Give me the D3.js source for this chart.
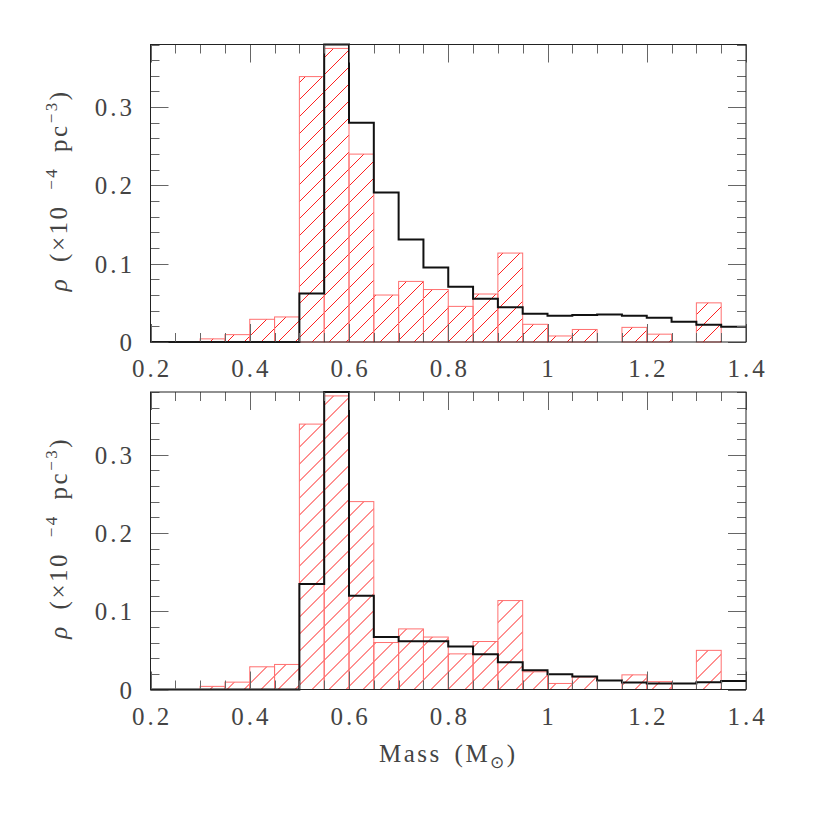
<!DOCTYPE html>
<meta charset="utf-8">
<head>
<style>
  body { margin: 0; background: #fff; }
  text { font-family: "Liberation Serif", "Times New Roman", serif; fill: #444; }
  .tick-label { font-size: 25px; letter-spacing: 3px; }
</style>
</head>
<script src="https://d3js.org/d3.v7.min.js"></script>
<div id="chart"></div>
<script>
// bin left edges (Msun), width 0.05
var binStarts = [0.20, 0.25, 0.30, 0.35, 0.40, 0.45, 0.50, 0.55, 0.60, 0.65, 0.70, 0.75,
                 0.80, 0.85, 0.90, 0.95, 1.00, 1.05, 1.10, 1.15, 1.20, 1.25, 1.30, 1.35];
var binWidth = 0.05;

// observed density (red hatched), same in both panels
var observed = [0, 0, 0.004, 0.0094, 0.029, 0.032, 0.339, 0.375, 0.240, 0.060, 0.0774, 0.067,
                0.0455, 0.0613, 0.1136, 0.0226, 0.0077, 0.016, 0, 0.0187, 0.010, 0, 0.050, 0];

// model densities (black step)
var modelTop = [0, 0, 0, 0, 0, 0, 0.062, 0.38, 0.28, 0.191, 0.131, 0.0953,
                0.0706, 0.0553, 0.0443, 0.036, 0.0336, 0.0345, 0.035, 0.0336, 0.031, 0.026, 0.022, 0.0196];
var modelBottom = [0, 0, 0, 0, 0, 0, 0.1346, 0.38, 0.1197, 0.067, 0.0616, 0.0616,
                   0.055, 0.045, 0.0348, 0.0246, 0.0195, 0.0166, 0.0115, 0.0089, 0.0076, 0.0076, 0.0093, 0.011];

var xTicks = [0.2, 0.4, 0.6, 0.8, 1, 1.2, 1.4];
var yTicks = [0, 0.1, 0.2, 0.3];

var W = 814, H = 814;
var left = 150.5, right = 746;
var panels = [
  {top: 44.5, bottom: 342, model: modelTop},
  {top: 392, bottom: 689.5, model: modelBottom}
];

var svg = d3.select("#chart").append("svg")
  .attr("width", W).attr("height", H);

var x = d3.scaleLinear().domain([0.2, 1.4]).range([left, right]);

panels.forEach(function(p, pi) {
  var y = d3.scaleLinear().domain([0, 0.38]).range([p.bottom, p.top]);
  var g = svg.append("g");

  var bars = binStarts.map(function(b, i) { return {x0: b, v: observed[i]}; })
    .filter(function(d) { return d.v > 0; });

  // clip for the hatching = union of the observed bars
  var clipId = "clip" + pi;
  svg.append("clipPath").attr("id", clipId)
    .selectAll("rect").data(bars).enter().append("rect")
      .attr("x", function(d) { return x(d.x0); })
      .attr("width", function(d) { return x(d.x0 + binWidth) - x(d.x0); })
      .attr("y", function(d) { return y(d.v); })
      .attr("height", function(d) { return y(0) - y(d.v); });

  // 45 degree hatch lines, one path
  var gap = 17, h = p.bottom - p.top;
  var offs = d3.range(left - h - gap, right + gap, gap);
  var hatch = d3.path();
  offs.forEach(function(o) { hatch.moveTo(o, p.bottom); hatch.lineTo(o + h, p.top); });
  g.append("path")
    .attr("clip-path", "url(#" + clipId + ")")
    .attr("d", hatch.toString())
    .style("fill", "none")
    .style("stroke", "#ff2020")
    .style("stroke-width", 1);

  // red bar outlines
  g.selectAll("rect.obs").data(bars).enter().append("rect")
      .attr("class", "obs")
      .attr("x", function(d) { return x(d.x0); })
      .attr("width", function(d) { return x(d.x0 + binWidth) - x(d.x0); })
      .attr("y", function(d) { return y(d.v); })
      .attr("height", function(d) { return y(0) - y(d.v); })
      .style("fill", "none")
      .style("stroke", "#ff7070")
      .style("stroke-width", 1);

  // black step line
  var pts = binStarts.map(function(b, i) { return [b, p.model[i]]; });
  pts.push([1.4, p.model[p.model.length - 1]]);
  var line = d3.line()
    .x(function(d) { return x(d[0]); })
    .y(function(d) { return y(d[1]); })
    .curve(d3.curveStepAfter);
  g.append("path")
    .attr("d", line(pts))
    .style("fill", "none")
    .style("stroke", "#111")
    .style("stroke-width", 2);

  // ticks on all four sides
  var xMinor = d3.range(0.2, 1.4001, 0.05);
  var yMinor = d3.range(0, 0.3801, 0.02);
  var tg = g.append("g").style("stroke", "#666").style("stroke-width", 1);
  xMinor.forEach(function(t) {
    var major = Math.abs(Math.round(t * 5) - t * 5) < 1e-6;
    var len = major ? 18 : 9;
    var xx = Math.round(x(t)) + 0.5;
    tg.append("line").attr("x1", xx).attr("x2", xx).attr("y1", p.bottom).attr("y2", p.bottom - len);
    tg.append("line").attr("x1", xx).attr("x2", xx).attr("y1", p.top).attr("y2", p.top + len);
  });
  yMinor.forEach(function(t) {
    var major = Math.abs(Math.round(t * 10) - t * 10) < 1e-6;
    var len = major ? 18 : 9;
    var yy = Math.round(y(t)) + 0.5;
    tg.append("line").attr("y1", yy).attr("y2", yy).attr("x1", left).attr("x2", left + len);
    tg.append("line").attr("y1", yy).attr("y2", yy).attr("x1", right).attr("x2", right - len);
  });

  // frame
  g.append("rect")
    .attr("x", left).attr("y", p.top)
    .attr("width", right - left).attr("height", p.bottom - p.top)
    .style("fill", "none").style("stroke", "#222").style("stroke-width", 1);

  // tick labels
  g.selectAll("text.xl").data(xTicks).enter().append("text")
    .attr("class", "tick-label")
    .attr("x", function(d) { return x(d) + 1.5; })
    .attr("y", p.bottom + 35)
    .attr("text-anchor", "middle")
    .text(function(d) { return d3.format("")(d); });
  g.selectAll("text.yl").data(yTicks).enter().append("text")
    .attr("class", "tick-label")
    .attr("x", 135)
    .attr("y", function(d) { return y(d) + 9; })
    .attr("text-anchor", "end")
    .text(function(d) { return d3.format("")(d); });

  // y axis label
  var yl = g.append("text")
    .attr("transform", "translate(67," + ((p.top + p.bottom) / 2 - 3) + ") rotate(-90)")
    .attr("text-anchor", "middle")
    .style("font-size", "25px")
    .style("letter-spacing", "2.5px")
    .style("word-spacing", "6px");
  yl.append("tspan").style("font-style", "italic").text("\u03C1 ");
  yl.append("tspan").text(" (\u00D710 ");
  yl.append("tspan").attr("dy", -10).style("font-size", "17px").text("\u22124");
  yl.append("tspan").attr("dy", 10).text("  pc");
  yl.append("tspan").attr("dy", -10).style("font-size", "17px").text("\u22123");
  yl.append("tspan").attr("dy", 10).text(")");
});

// x axis label
var xl = svg.append("text")
  .attr("x", (left + right) / 2)
  .attr("y", 762)
  .attr("text-anchor", "middle")
  .style("font-size", "25px")
  .style("letter-spacing", "2.5px")
  .style("word-spacing", "4px");
xl.append("tspan").text("Mass (M");
xl.append("tspan").attr("dy", 6).style("font-size", "17px").text("\u2299");
xl.append("tspan").attr("dy", -6).text(")");
</script>
